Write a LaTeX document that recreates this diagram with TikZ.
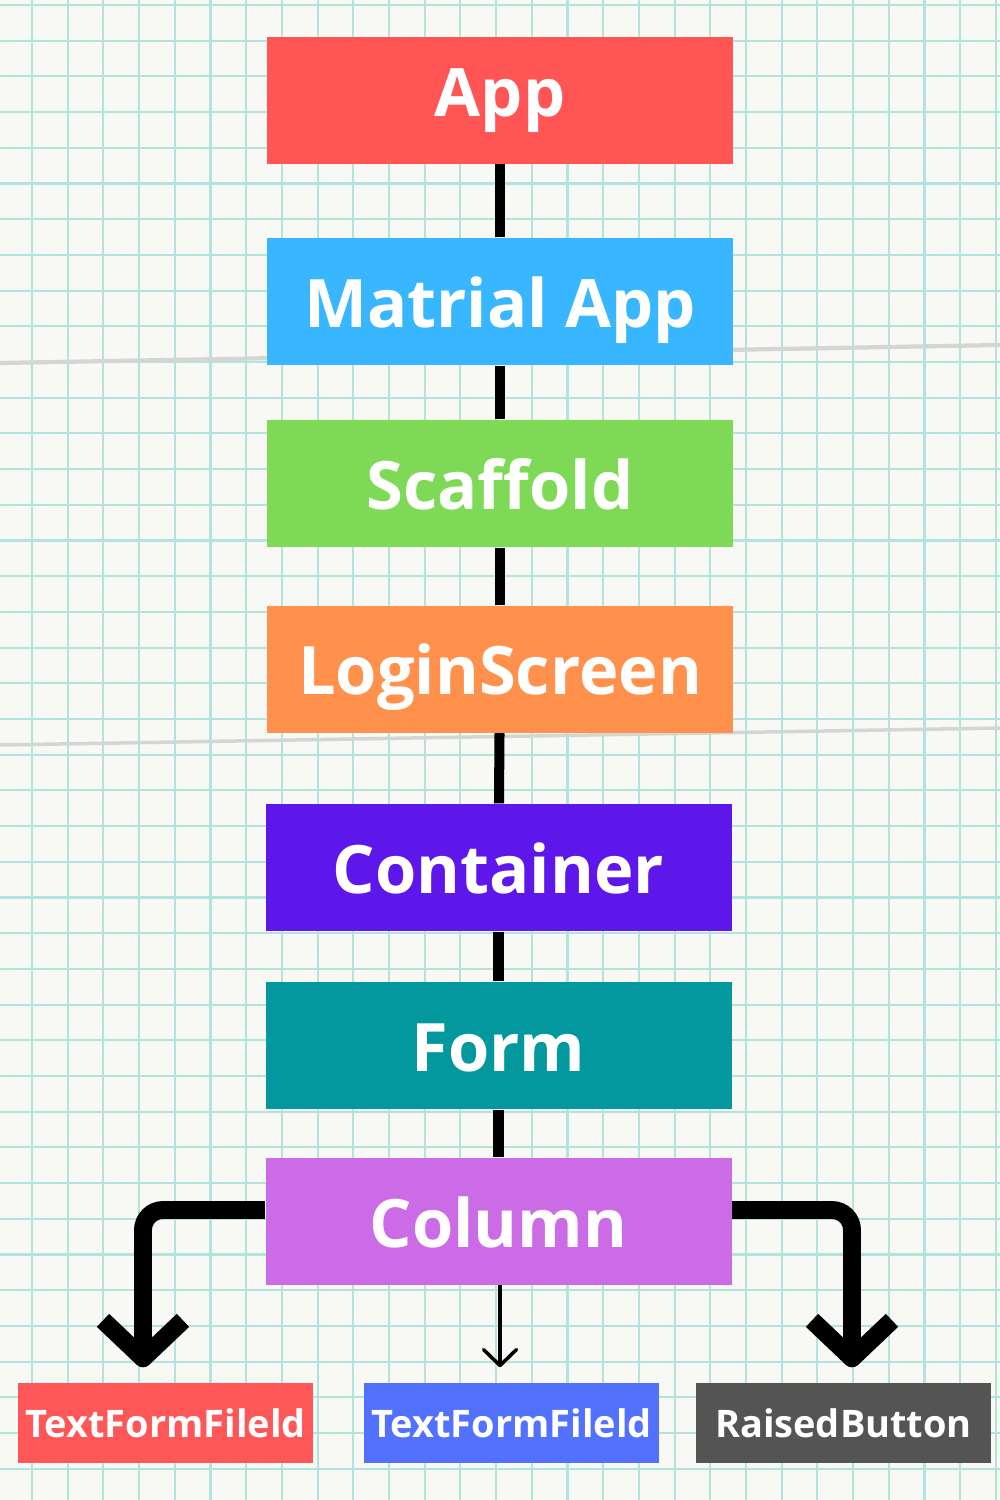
\documentclass[tikz,border=0pt]{standalone}
\usepackage{fontspec}
\setmainfont{Open Sans}
\usetikzlibrary{arrows.meta}
\definecolor{paper}{RGB}{248,248,245}
\definecolor{gridcol}{RGB}{178,228,222}
\definecolor{foldcol}{RGB}{212,214,214}
\definecolor{appcol}{RGB}{255,85,85}
\definecolor{matcol}{RGB}{56,182,255}
\definecolor{scafcol}{RGB}{126,217,87}
\definecolor{logincol}{RGB}{255,145,77}
\definecolor{contcol}{RGB}{94,23,235}
\definecolor{formcol}{RGB}{3,152,158}
\definecolor{colcol}{RGB}{203,108,230}
\definecolor{tfacol}{RGB}{255,87,87}
\definecolor{tfbcol}{RGB}{82,113,255}
\definecolor{btncol}{RGB}{84,84,84}
\begin{document}
\begin{tikzpicture}[
    box/.style={fill=#1,text=white,font=\bfseries\fontsize{19}{19}\selectfont,minimum width=4.66cm,minimum height=1.27cm,inner sep=0pt,text height=0.51cm,text depth=0cm},
    leaf/.style={fill=#1,text=white,font=\bfseries\fontsize{10.8}{11}\selectfont,minimum width=2.95cm,minimum height=0.8cm,inner sep=0pt},
    link/.style={line width=2.85pt},
    bent/.style={line width=5.1pt,rounded corners=0.2cm,-{Straight Barb[length=0.38cm,width=0.8cm,line join=round,line cap=butt]}},
    thin/.style={line width=1pt,-{Straight Barb[length=0.16cm,width=0.33cm,line join=round,line cap=round]}}
]
    \useasboundingbox[fill=paper] (0,0) rectangle (10,-15);
    \begin{scope}
        \clip (0,0) rectangle (10,-15);
        \draw[gridcol,line width=0.6pt,step=0.357,shift={(0.32,-0.05)}] (-1,-16) grid (11,1);
        \draw[foldcol,line width=1.2pt] (0,-3.63) -- (10,-3.45);
        \draw[foldcol,line width=1pt] (0,-7.45) -- (10,-7.28);
    \end{scope}
    \node[box=appcol,text depth=0.18cm] (app) at (5,-1.0) {App};
    \node[box=matcol] (mat) at (5,-3.015) {Matrial App};
    \node[box=scafcol] (scaf) at (5,-4.835) {Scaffold};
    \node[box=logincol] (login) at (5,-6.69) {LoginScreen};
    \node[box=contcol] (cont) at (4.985,-8.675) {Container};
    \node[box=formcol] (form) at (4.985,-10.455) {Form};
    \node[box=colcol] (col) at (4.985,-12.215) {Column};
    \node[leaf=tfacol] (tfa) at (1.655,-14.23) {TextFormFileld};
    \node[leaf=tfbcol] (tfb) at (5.115,-14.23) {TextFormFileld};
    \node[leaf=btncol] (btn) at (8.435,-14.23) {RaisedButton};
    \draw[link] (app) -- (mat);
    \draw[link] (mat) -- (scaf);
    \draw[link] (scaf) -- (login);
    \draw[link] (login) -- (cont);
    \draw[link] (cont) -- (form);
    \draw[link] (form) -- (col);
    \coordinate (lbend) at (1.43,-12.10);
    \coordinate (rbend) at (8.52,-12.10);
    \coordinate (mid) at (5,-12.85);
    \draw[bent,shorten >=0.15cm] (col.west |- lbend) -- (lbend) -- (lbend |- tfa.north);
    \draw[bent,shorten >=0.15cm] (col.east |- rbend) -- (rbend) -- (rbend |- btn.north);
    \draw[thin,shorten >=0.15cm] (mid) -- (mid |- tfb.north);
\end{tikzpicture}
\end{document}
